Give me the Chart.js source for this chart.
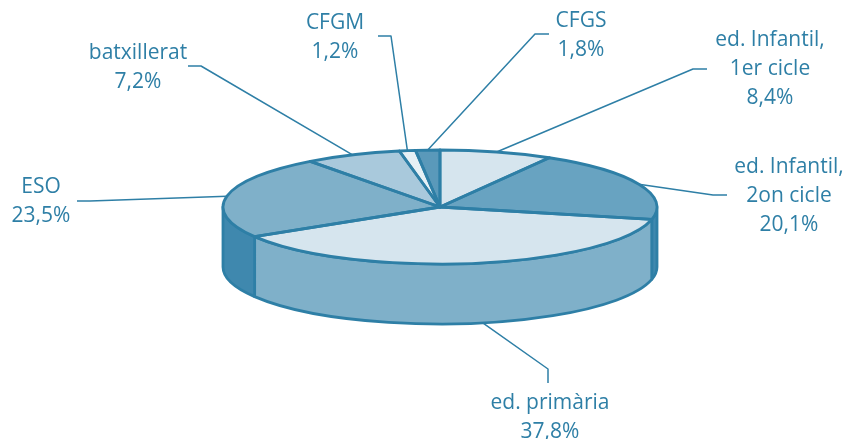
<!DOCTYPE html>
<html>
<head>
<meta charset="utf-8">
<script src="https://cdn.jsdelivr.net/npm/chart.js@4/dist/chart.umd.min.js"></script>
<style>
  body { margin: 0; background: #fff; }
  #wrap { width: 847px; height: 439px; }
</style>
</head>
<body>
<div id="wrap"><canvas id="pie" width="847" height="439"></canvas></div>
<script>
const categories = [
  ['ed. Infantil,', '1er cicle'],
  ['ed. Infantil,', '2on cicle'],
  ['ed. primària'],
  ['ESO'],
  ['batxillerat'],
  ['CFGM'],
  ['CFGS']
];
const percents = [8.4, 20.1, 37.8, 23.5, 7.2, 1.2, 1.8];
const topColors = ['#d6e5ee', '#68a3c1', '#d6e5ee', '#7fb0c9', '#a9c9dc', '#e6f0f5', '#5a99ba'];
const wallColors = ['#7fb0c9', '#3f88ae', '#7fb0c9', '#3f88ae', '#7fb0c9', '#7fb0c9', '#3f88ae'];

const INK = '#2e7fa6';
const SQUASH = 57 / 217;
const TOP_Y = 207;
const DEPTH = 60;

// label block centre + first line y, then leader elbow and its short tail
const labelLayout = [
  { x: 770, y: 40.5,  elbow: [693, 69],  tail: [707, 69] },
  { x: 789, y: 167.5, elbow: [713, 195], tail: [727, 195] },
  { x: 550, y: 403.5, elbow: [548, 369], tail: [548, 383], wall: true, shift: -0.035 },
  { x: 41,  y: 187.5, elbow: [90, 201],  tail: [77, 201] },
  { x: 138, y: 53.5,  elbow: [201, 66],  tail: [188, 66] },
  { x: 335, y: 23.5,  elbow: [391, 36],  tail: [378, 36] },
  { x: 581, y: 21.5,  elbow: [535, 34],  tail: [549, 34] }
];

const pie3d = {
  id: 'pie3d',
  beforeDatasetsDraw(chart) {
    const ctx = chart.ctx;
    const arcs = chart.getDatasetMeta(0).data;
    const rx = arcs[0].outerRadius, ry = rx * SQUASH, cx = arcs[0].x;

    // side wall, only the front half of the rim shows
    ctx.save();
    ctx.lineWidth = 2.8;
    ctx.lineJoin = 'round';
    ctx.strokeStyle = INK;
    arcs.forEach(function(arc, i) {
      const a0 = Math.max(arc.startAngle, 0);
      const a1 = Math.min(arc.endAngle, Math.PI);
      if (a1 <= a0) return;
      ctx.beginPath();
      ctx.ellipse(cx, TOP_Y, rx, ry, 0, a0, a1);
      ctx.ellipse(cx, TOP_Y + DEPTH, rx, ry, 0, a1, a0, true);
      ctx.closePath();
      ctx.fillStyle = wallColors[i];
      ctx.fill();
      ctx.stroke();
    });
    ctx.restore();

    // squash the chart's own arcs into the top ellipse
    ctx.save();
    ctx.translate(0, TOP_Y);
    ctx.scale(1, SQUASH);
    ctx.translate(0, -arcs[0].y);
  },
  afterDatasetsDraw(chart) {
    const ctx = chart.ctx;
    ctx.restore();

    const arcs = chart.getDatasetMeta(0).data;
    const rx = arcs[0].outerRadius, ry = rx * SQUASH, cx = arcs[0].x;

    ctx.save();
    ctx.lineJoin = 'round';
    ctx.strokeStyle = INK;
    ctx.lineWidth = 2.8;
    arcs.forEach(function(arc) {
      ctx.beginPath();
      ctx.moveTo(cx, TOP_Y);
      ctx.ellipse(cx, TOP_Y, rx, ry, 0, arc.startAngle, arc.endAngle);
      ctx.closePath();
      ctx.stroke();
    });

    // leader lines start at each slice's mid angle on the rim
    ctx.lineWidth = 1.5;
    arcs.forEach(function(arc, i) {
      const l = labelLayout[i];
      const mid = (arc.startAngle + arc.endAngle) / 2 + (l.shift || 0);
      ctx.beginPath();
      ctx.moveTo(cx + rx * Math.cos(mid), TOP_Y + ry * Math.sin(mid) + (l.wall ? DEPTH : 0));
      ctx.lineTo(l.elbow[0], l.elbow[1]);
      ctx.lineTo(l.tail[0], l.tail[1]);
      ctx.stroke();
    });

    ctx.fillStyle = INK;
    ctx.font = '21px "Open Sans"';
    ctx.textAlign = 'center';
    ctx.textBaseline = 'middle';
    categories.forEach(function(lines, i) {
      const l = labelLayout[i];
      const rows = lines.concat(String(percents[i]).replace('.', ',') + '%');
      rows.forEach(function(row, r) {
        ctx.fillText(row, l.x, l.y + r * 29);
      });
    });
    ctx.restore();
  }
};

new Chart(document.getElementById('pie').getContext('2d'), {
  type: 'pie',
  data: {
    labels: categories.map(function(c) { return c.join(' '); }),
    datasets: [{
      data: percents,
      backgroundColor: topColors,
      borderWidth: 0,
      radius: 217
    }]
  },
  options: {
    responsive: false,
    animation: false,
    layout: { padding: { left: 33 } },
    plugins: { legend: { display: false }, tooltip: { enabled: false } }
  },
  plugins: [pie3d]
});
</script>
</body>
</html>
